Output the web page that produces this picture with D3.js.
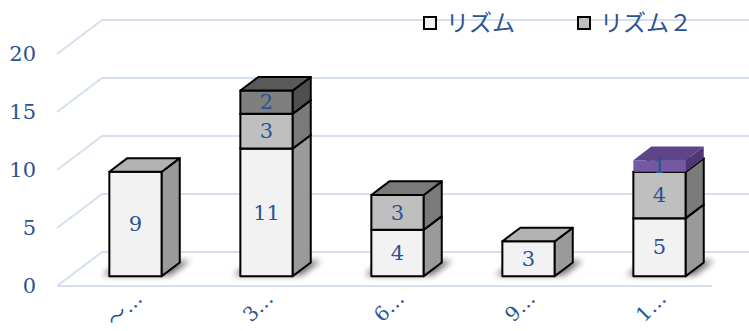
<!DOCTYPE html>
<html>
<head>
<meta charset="utf-8">
<script src="https://cdn.jsdelivr.net/npm/d3@7"></script>
<style>
  html, body { margin: 0; padding: 0; background: #fff; }
  svg { display: block; }
</style>
</head>
<body>
<svg id="chart" width="749" height="331"></svg>
<script>
// Categories and stacked series values
const categories = ["～…", "3…", "6…", "9…", "1…"];
const rhythm  = [9, 11, 4, 3, 5];
const rhythm2 = [0, 3, 3, 0, 4];
const rhythm3 = [0, 2, 0, 0, 0];
const rhythm4 = [0, 0, 0, 0, 1];
const yTicks = [0, 5, 10, 15, 20];
const legendNames = ["リズム", "リズム２"];

const series = [
  { name: "リズム",   values: rhythm,  front: "#f2f2f2", side: "#9a9a9a", top: "#b3b3b3", stroke: "#000" },
  { name: "リズム２", values: rhythm2, front: "#bfbfbf", side: "#7a7a7a", top: "#7a7a7a", stroke: "#000" },
  { name: "リズム３", values: rhythm3, front: "#7f7f7f", side: "#4f4f4f", top: "#595959", stroke: "#000" },
  { name: "リズム４", values: rhythm4, front: "#7458a3", side: "#4e3873", top: "#5e4588", stroke: "none" }
];

const W = 749, H = 331;
const svg = d3.select("#chart");
const textColor = "#2c5391";
const numFont = "'DejaVu Serif', serif";
const jpFont = "'DejaVu Serif', 'Noto Sans CJK JP', serif";

// Plot frame on the front plane, plus oblique depth of the 3D box
const floorLeft = 57, floorRight = 712;
const DX = 45, DY = -34;
const d0 = 0.29, d1 = 0.69;   // depth slice occupied by the bars

const x = d3.scaleBand().domain(categories).range([floorLeft, floorRight]);
const y = d3.scaleLinear().domain([0, 20]).range([286, 54]);
const barW = x.bandwidth() * 0.4;

const P = (px, py, d) => [px + d * DX, py + d * DY];
const poly = pts => "M" + pts.map(p => p.join(",")).join("L") + "Z";

const defs = svg.append("defs");
defs.append("filter").attr("id", "shadow").attr("x", "-50%").attr("y", "-100%")
  .attr("width", "200%").attr("height", "300%")
  .append("feGaussianBlur").attr("stdDeviation", 3);

// Gridlines: side wall diagonal + back wall horizontal
const grid = svg.append("g").attr("fill", "none").attr("stroke", "#d5dff0").attr("stroke-width", 2);
yTicks.forEach(v => {
  const a = P(floorLeft, y(v), 0), b = P(floorLeft, y(v), 1);
  grid.append("path").attr("d", `M${a}L${b}L${W + 20},${b[1]}`);
});
grid.append("line").attr("x1", floorLeft).attr("x2", floorRight)
  .attr("y1", y(0)).attr("y2", y(0));

// Value axis labels
svg.append("g").selectAll("text").data(yTicks).join("text")
  .attr("x", 36).attr("y", d => y(d))
  .attr("dy", "0.35em")
  .attr("text-anchor", "end")
  .attr("font-family", numFont).attr("font-size", 21)
  .attr("fill", textColor)
  .text(d => d);

// Category labels, rotated
svg.append("g").selectAll("text").data(categories).join("text")
  .attr("transform", d => `translate(${x(d) + x.bandwidth() / 2 + 16},${295}) rotate(-45)`)
  .attr("dy", "0.35em")
  .attr("text-anchor", "end")
  .attr("font-family", jpFont).attr("font-size", 20)
  .attr("fill", textColor)
  .text(d => d);

// Build stacks
const stacked = categories.map((c, i) => {
  let acc = 0;
  return series.map(s => {
    const v = s.values[i];
    const seg = { cat: c, s, v, v0: acc, v1: acc + v };
    acc += v;
    return seg;
  }).filter(seg => seg.v > 0);
});

const bars = svg.append("g");

// Floor shadows under each bar
stacked.forEach(stack => {
  const cx = x(stack[0].cat) + x.bandwidth() / 2;
  const xa = cx - barW / 2 - 8, xb = cx + barW / 2 + 8;
  const yb = y(0);
  bars.append("path")
    .attr("d", poly([P(xa, yb, d0 + 0.02), P(xb, yb, d0 + 0.02), P(xb, yb, d1 + 0.05), P(xa, yb, d1 + 0.05)]))
    .attr("fill", "#000").attr("opacity", 0.55)
    .attr("filter", "url(#shadow)");
});

// Cuboid segments, bottom to top
stacked.forEach(stack => {
  const cx = x(stack[0].cat) + x.bandwidth() / 2;
  const x0 = cx - barW / 2, x1 = cx + barW / 2;
  stack.forEach(seg => {
    const yb = y(seg.v0), yt = y(seg.v1);
    const g = bars.append("g")
      .attr("stroke", seg.s.stroke).attr("stroke-width", 2).attr("stroke-linejoin", "round");
    g.append("path").attr("fill", seg.s.front)
      .attr("d", poly([P(x0, yb, d0), P(x1, yb, d0), P(x1, yt, d0), P(x0, yt, d0)]));
    g.append("path").attr("fill", seg.s.side)
      .attr("d", poly([P(x1, yb, d0), P(x1, yb, d1), P(x1, yt, d1), P(x1, yt, d0)]));
    g.append("path").attr("fill", seg.s.top)
      .attr("d", poly([P(x0, yt, d0), P(x1, yt, d0), P(x1, yt, d1), P(x0, yt, d1)]));
  });
});

// Data labels centred on each segment's front face
stacked.forEach(stack => {
  const cx = x(stack[0].cat) + x.bandwidth() / 2;
  stack.forEach(seg => {
    const p = P(cx, (y(seg.v0) + y(seg.v1)) / 2, d0);
    svg.append("text")
      .attr("x", p[0]).attr("y", p[1])
      .attr("dy", "0.35em")
      .attr("text-anchor", "middle")
      .attr("font-family", numFont).attr("font-size", 21)
      .attr("fill", textColor)
      .text(seg.v);
  });
});

// Legend
const legend = svg.append("g");
const legendX = [424, 578];
legendNames.forEach((name, i) => {
  const s = series.find(d => d.name === name);
  legend.append("rect")
    .attr("x", legendX[i]).attr("y", 17).attr("width", 12).attr("height", 12)
    .attr("fill", s.front).attr("stroke", "#000").attr("stroke-width", 2);
  legend.append("text")
    .attr("x", legendX[i] + 22).attr("y", 23)
    .attr("dy", "0.35em")
    .attr("font-family", jpFont).attr("font-size", 23)
    .attr("fill", textColor)
    .text(name);
});
</script>
</body>
</html>
